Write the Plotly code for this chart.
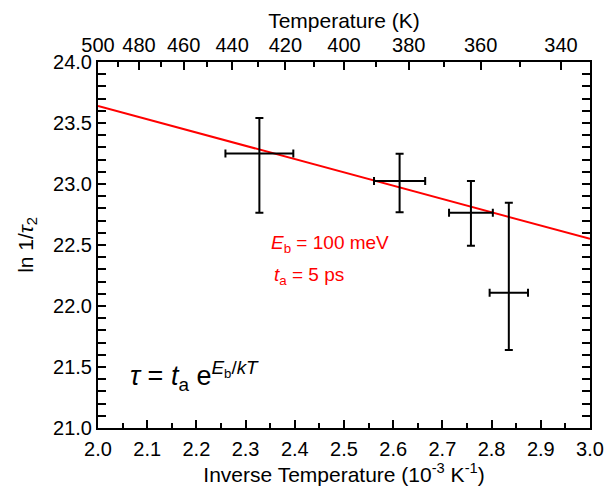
import plotly.graph_objects as go

# Measured relaxation rates vs inverse temperature
inv_temp = [2.328, 2.613, 2.758, 2.835]          # 10^-3 K^-1
inv_temp_err = [0.069, 0.052, 0.0445, 0.039]
ln_rate = [23.25, 23.025, 22.765, 22.109]          # ln 1/tau2
ln_rate_err_plus = [0.29, 0.223, 0.26, 0.738]
ln_rate_err_minus = [0.485, 0.257, 0.271, 0.47]

# Arrhenius fit line end points
fit_inv_temp = [2.0, 3.0]
fit_ln_rate = [23.64, 22.55]

# Top axis temperature labels (K)
temp_major = [500, 480, 460, 440, 420, 400, 380, 360, 340]
temp_minor = [490, 470, 450, 430, 410, 390, 370, 350]

FONT = "Liberation Sans, Arial, sans-serif"
TICK_SIZE = 20
TITLE_SIZE = 21

fig = go.Figure()

fig.add_trace(go.Scatter(
    x=fit_inv_temp, y=fit_ln_rate, mode="lines",
    line=dict(color="#ff0000", width=2), showlegend=False, hoverinfo="skip",
))

fig.add_trace(go.Scatter(
    x=inv_temp, y=ln_rate, mode="markers",
    marker=dict(size=1, color="rgba(0,0,0,0)"),
    error_x=dict(type="data", array=inv_temp_err, color="black", thickness=2, width=4),
    error_y=dict(type="data", symmetric=False, array=ln_rate_err_plus,
                 arrayminus=ln_rate_err_minus, color="black", thickness=2, width=4),
    showlegend=False,
))

# invisible trace to activate the top temperature axis
fig.add_trace(go.Scatter(x=[2.0], y=[21.0], xaxis="x2", mode="markers",
                         marker=dict(size=1, color="rgba(0,0,0,0)"),
                         showlegend=False, hoverinfo="skip"))

axis_common = dict(showline=True, linecolor="black", linewidth=2, ticks="inside",
                   tickcolor="black", tickwidth=2, ticklen=8, showgrid=False,
                   zeroline=False, tickfont=dict(family=FONT, size=TICK_SIZE, color="black"))
minor_common = dict(ticks="inside", ticklen=5, tickwidth=2, tickcolor="black")

fig.update_layout(
    width=616, height=490,
    margin=dict(l=98, r=24, t=62, b=62),
    paper_bgcolor="white", plot_bgcolor="white",
    font=dict(family=FONT, color="black"),
    xaxis=dict(range=[2.0, 3.0], dtick=0.1, tick0=2.0, tickformat=".1f",
               ticklabelstandoff=2,
               minor=dict(dtick=0.05, **minor_common),
               title=dict(text="Inverse Temperature (10<sup>-3</sup> K<sup>-1</sup>)",
                          font=dict(family=FONT, size=TITLE_SIZE, color="black"), standoff=0),
               **axis_common),
    xaxis2=dict(range=[2.0, 3.0], overlaying="x", side="top",
                tickmode="array", tickvals=[1000 / t for t in temp_major],
                ticktext=[str(t) for t in temp_major],
                minor=dict(tickmode="array", tickvals=[1000 / t for t in temp_minor],
                           **minor_common),
                title=dict(text="Temperature (K)",
                           font=dict(family=FONT, size=TITLE_SIZE, color="black"), standoff=0),
                **axis_common),
    yaxis=dict(range=[21.0, 24.0], dtick=0.5, tick0=21.0, tickformat=".1f", mirror="allticks",
               minor=dict(dtick=0.1, **minor_common),
               title=dict(text="ln 1/<i>τ</i><sub>2</sub>",
                          font=dict(family=FONT, size=TITLE_SIZE, color="black"), standoff=14),
               **axis_common),
)

red = dict(family=FONT, size=19, color="#ff0000")
fig.add_annotation(x=2.348, y=22.51, xref="x", yref="y", xanchor="left", showarrow=False,
                   text="<i>E</i><sub>b</sub> = 100 meV", font=red)
fig.add_annotation(x=2.353, y=22.25, xref="x", yref="y", xanchor="left", showarrow=False,
                   text="<i>t</i><sub>a</sub> = 5 ps", font=red)
fig.add_annotation(x=2.06, y=21.43, xref="x", yref="y", xanchor="left", showarrow=False,
                   text="<i>τ</i> = <i>t</i><sub>a</sub> e<sup><i>E</i><sub>b</sub>/<i>kT</i></sup>",
                   font=dict(family=FONT, size=27, color="black"))

fig.write_html("out.html")
